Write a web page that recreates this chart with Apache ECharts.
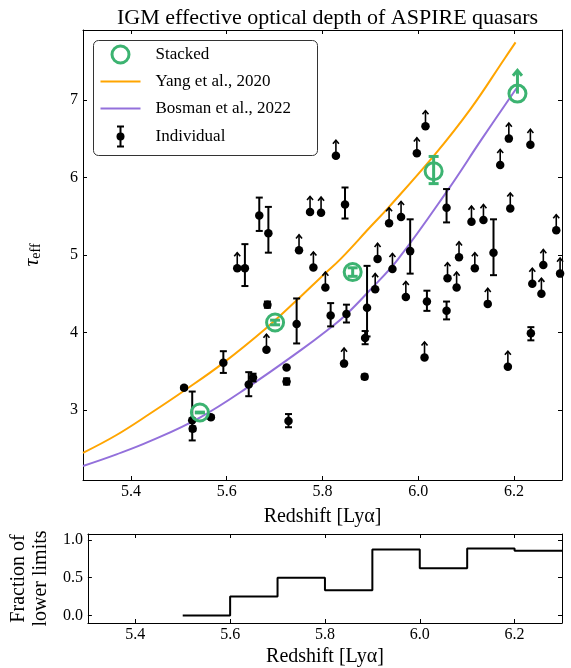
<!DOCTYPE html>
<html>
<head>
<meta charset="utf-8">
<script src="https://cdn.jsdelivr.net/npm/echarts@6/dist/echarts.min.js"></script>
<style>
  html, body { margin: 0; padding: 0; background: #fff; }
  #chart { width: 571px; height: 668px; }
</style>
</head>
<body>
<div id="chart"></div>
<script>
// Individual quasars with measured optical depth (value with asymmetric errors)
const zMeas = [5.511, 5.528, 5.529, 5.567, 5.593, 5.638, 5.646, 5.655, 5.668, 5.687,
               5.685, 5.725, 5.725, 5.729, 5.746, 5.817, 5.847, 5.850, 5.888, 5.889,
               5.893, 5.983, 6.018, 6.059, 6.059, 6.157, 6.235];
const tauMeas = [3.29, 2.87, 2.76, 2.91, 3.61, 4.83, 3.33, 3.42, 5.51, 5.28,
                 4.36, 3.55, 3.37, 2.86, 4.11, 4.22, 5.65, 4.24, 3.43, 3.93,
                 4.32, 5.05, 4.40, 4.28, 5.61, 5.03, 3.99];
const errLoMeas = [0.02, 0.26, 0.03, 0.02, 0.13, 0.23, 0.15, 0.05, 0.20, 0.25,
                   0.04, 0.02, 0.04, 0.08, 0.25, 0.14, 0.18, 0.11, 0.03, 0.08,
                   0.37, 0.29, 0.12, 0.11, 0.19, 0.29, 0.09];
const errHiMeas = [0.02, 0.37, 0.03, 0.02, 0.15, 0.31, 0.16, 0.05, 0.23, 0.34,
                   0.04, 0.02, 0.04, 0.09, 0.33, 0.16, 0.22, 0.12, 0.03, 0.09,
                   0.54, 0.41, 0.14, 0.12, 0.24, 0.43, 0.08];

// Individual quasars where only a lower limit on the optical depth is available
const zLim = [5.622, 5.683, 5.751, 5.774, 5.781, 5.797, 5.806, 5.828, 5.845, 5.910,
              5.915, 5.939, 5.946, 5.964, 5.974, 5.997, 6.013, 6.015, 6.061, 6.080,
              6.085, 6.111, 6.118, 6.136, 6.145, 6.171, 6.187, 6.189, 6.192, 6.234,
              6.238, 6.257, 6.261, 6.288, 6.296];
const tauLim = [4.83, 3.78, 5.06, 5.555, 4.84, 5.546, 4.58, 6.28, 3.60, 4.56,
                4.95, 5.41, 4.82, 5.49, 4.46, 6.31, 3.68, 6.66, 4.70, 4.58,
                4.97, 5.43, 4.83, 5.45, 4.37, 6.16, 3.56, 6.50, 5.60, 6.42,
                4.63, 4.50, 4.87, 5.32, 4.76];
const limArrowLen = 0.2;

// Stacked measurements
const zStack = [5.544, 5.701, 5.863, 6.032, 6.207];
const tauStack = [2.97, 4.13, 4.78, 6.08, 7.08];
const errLoStack = [0.005, 0.03, 0.055, 0.16, 0];
const errHiStack = [0.005, 0.03, 0.055, 0.19, 0];
const stackIsLimit = [false, false, false, false, true];
const stackArrowLen = 0.3;

// Literature relations
const zYang = [5.30, 5.37, 5.441, 5.511, 5.593, 5.681, 5.745, 5.803, 5.838, 5.901, 5.939, 6.034, 6.110, 6.180, 6.203];
const tauYang = [2.45, 2.68, 2.96, 3.25, 3.61, 4.05, 4.41, 4.75, 4.95, 5.37, 5.62, 6.29, 6.89, 7.53, 7.74];
const zBosman = [5.30, 5.37, 5.44, 5.544, 5.65, 5.754, 5.81, 5.849, 5.901, 5.957, 6.062, 6.131, 6.205];
const tauBosman = [2.28, 2.43, 2.60, 2.905, 3.32, 3.77, 4.03, 4.23, 4.56, 4.94, 5.84, 6.48, 7.15];

// Fraction of lower limits per redshift bin
const zBinEdges = [5.5, 5.6, 5.7, 5.8, 5.9, 6.0, 6.1, 6.2, 6.3];
const fracLowerLimits = [0, 0.25, 0.5, 0.333, 0.875, 0.625, 0.889, 0.857];

// Axis ticks
const zTicks = [5.4, 5.6, 5.8, 6.0, 6.2];
const tauTicks = [3, 4, 5, 6, 7];
const fracTicks = [0, 0.5, 1.0];

const FONT = '"Liberation Serif", "Times New Roman", serif';
const GREEN = '#3CB371', ORANGE = '#FFA500', PURPLE = '#9370DB';

const chart = echarts.init(document.getElementById('chart'), null, { renderer: 'canvas' });

function errRender(color, lw, capHalf) {
  return function (params, api) {
    const x = api.value(0), lo = api.value(2), hi = api.value(3);
    const pLo = api.coord([x, lo]);
    const pHi = api.coord([x, hi]);
    const st = { stroke: color, lineWidth: lw };
    return {
      type: 'group',
      children: [
        { type: 'line', shape: { x1: pLo[0], y1: pLo[1], x2: pHi[0], y2: pHi[1] }, style: st },
        { type: 'line', shape: { x1: pLo[0] - capHalf, y1: pLo[1], x2: pLo[0] + capHalf, y2: pLo[1] }, style: st },
        { type: 'line', shape: { x1: pHi[0] - capHalf, y1: pHi[1], x2: pHi[0] + capHalf, y2: pHi[1] }, style: st }
      ]
    };
  };
}

function arrowRender(color, lw, len, head) {
  return function (params, api) {
    const x = api.value(0), y = api.value(1);
    const p0 = api.coord([x, y]);
    const p1 = api.coord([x, y + len]);
    const st = { stroke: color, lineWidth: lw, fill: null };
    return {
      type: 'group',
      children: [
        { type: 'line', shape: { x1: p0[0], y1: p0[1], x2: p1[0], y2: p1[1] }, style: st },
        { type: 'polyline', shape: { points: [[p1[0] - head, p1[1] + head * 1.2], [p1[0], p1[1]], [p1[0] + head, p1[1] + head * 1.2]] }, style: st }
      ]
    };
  };
}

const measData = zMeas.map((z, i) => [z, tauMeas[i], tauMeas[i] - errLoMeas[i], tauMeas[i] + errHiMeas[i]]);
const limData = zLim.map((z, i) => [z, tauLim[i]]);
const stackErrData = zStack.map((z, i) => [z, tauStack[i], tauStack[i] - errLoStack[i], tauStack[i] + errHiStack[i]])
  .filter((d, i) => !stackIsLimit[i]);
const stackLimData = zStack.map((z, i) => [z, tauStack[i]]).filter((d, i) => stackIsLimit[i]);
const yangData = zYang.map((z, i) => [z, tauYang[i]]);
const bosmanData = zBosman.map((z, i) => [z, tauBosman[i]]);
const stepData = zBinEdges.map((z, i) => [z, fracLowerLimits[Math.min(i, fracLowerLimits.length - 1)]]);

const axisLineStyle = { color: '#000', width: 1 };
function xAxisCfg(grid, pos, labels) {
  return {
    type: 'value', gridIndex: grid, position: pos, min: 5.3, max: 6.3,
    axisLine: { show: true, onZero: false, lineStyle: axisLineStyle },
    axisTick: { show: true, inside: true, length: 4, customValues: zTicks, lineStyle: axisLineStyle },
    axisLabel: { show: labels, customValues: zTicks, margin: 4, fontFamily: FONT, fontSize: 16, color: '#000',
                 formatter: v => v.toFixed(1) },
    splitLine: { show: false }
  };
}
function yAxisCfg(grid, pos, labels, min, max, ticks, fmt) {
  return {
    type: 'value', gridIndex: grid, position: pos, min: min, max: max,
    axisLine: { show: true, onZero: false, lineStyle: axisLineStyle },
    axisTick: { show: true, inside: true, length: 4, customValues: ticks, lineStyle: axisLineStyle },
    axisLabel: { show: labels, customValues: ticks, margin: 5, fontFamily: FONT, fontSize: 16, color: '#000', formatter: fmt },
    splitLine: { show: false }
  };
}

const xMain = xAxisCfg(0, 'bottom', true);
xMain.name = 'Redshift [Lyα]';
xMain.nameLocation = 'middle';
xMain.nameGap = 27;
xMain.nameTextStyle = { fontFamily: FONT, fontSize: 20, color: '#000' };
const xFrac = xAxisCfg(1, 'bottom', true);
xFrac.name = 'Redshift [Lyα]';
xFrac.nameLocation = 'middle';
xFrac.nameGap = 24;
xFrac.nameTextStyle = { fontFamily: FONT, fontSize: 20, color: '#000' };

const yMain = yAxisCfg(0, 'left', true, 2.1, 7.9, tauTicks, v => String(v));
yMain.name = '{t|τ}{s|eff}';
yMain.nameLocation = 'middle';
yMain.nameRotate = 90;
yMain.nameGap = 40;
yMain.nameTextStyle = {
  color: '#000',
  rich: {
    t: { fontFamily: FONT, fontStyle: 'italic', fontSize: 22, color: '#000', verticalAlign: 'bottom', lineHeight: 26 },
    s: { fontFamily: FONT, fontSize: 14, color: '#000', verticalAlign: 'bottom', lineHeight: 20 }
  }
};
const yFrac = yAxisCfg(1, 'left', true, -0.1, 1.08, fracTicks, v => v.toFixed(1));
yFrac.name = 'Fraction of\nlower limits';
yFrac.nameLocation = 'middle';
yFrac.nameRotate = 90;
yFrac.nameGap = 31;
yFrac.nameTextStyle = { fontFamily: FONT, fontSize: 20, color: '#000', lineHeight: 22 };

const option = {
  animation: false,
  backgroundColor: '#fff',
  title: {
    text: 'IGM effective optical depth of ASPIRE quasars',
    left: 322.5, top: 2, textAlign: 'center',
    textStyle: { fontFamily: FONT, fontSize: 22, fontWeight: 'normal', color: '#000' }
  },
  grid: [
    { left: 83, top: 30, width: 479, height: 450 },
    { left: 83, top: 534, width: 479, height: 90 }
  ],
  xAxis: [xMain, xAxisCfg(0, 'top', false), xFrac, xAxisCfg(1, 'top', false)],
  yAxis: [yMain, yAxisCfg(0, 'right', false, 2.1, 7.9, tauTicks), yFrac, yAxisCfg(1, 'right', false, -0.1, 1.08, fracTicks)],
  series: [
    {
      name: 'Yang et al., 2020', type: 'line', xAxisIndex: 0, yAxisIndex: 0,
      data: yangData, smooth: 0.4, showSymbol: false, z: 1,
      lineStyle: { color: ORANGE, width: 2 }
    },
    {
      name: 'Bosman et al., 2022', type: 'line', xAxisIndex: 0, yAxisIndex: 0,
      data: bosmanData, smooth: 0.4, showSymbol: false, z: 1,
      lineStyle: { color: PURPLE, width: 2 }
    },
    {
      name: 'Individual', type: 'custom', xAxisIndex: 0, yAxisIndex: 0,
      data: measData, encode: { x: 0, y: 1 }, z: 3,
      renderItem: errRender('#000', 2, 3.5)
    },
    {
      name: 'Individual limits', type: 'custom', xAxisIndex: 0, yAxisIndex: 0,
      data: limData, encode: { x: 0, y: 1 }, z: 3,
      renderItem: arrowRender('#000', 1.6, limArrowLen, 3)
    },
    {
      name: 'Individual points', type: 'scatter', xAxisIndex: 0, yAxisIndex: 0,
      data: measData.map(d => [d[0], d[1]]).concat(limData), symbol: 'circle', symbolSize: 8.5, z: 4,
      itemStyle: { color: '#000', opacity: 1 }
    },
    {
      name: 'Stacked errors', type: 'custom', xAxisIndex: 0, yAxisIndex: 0,
      data: stackErrData, encode: { x: 0, y: 1 }, z: 5,
      renderItem: errRender(GREEN, 3, 5)
    },
    {
      name: 'Stacked limit', type: 'custom', xAxisIndex: 0, yAxisIndex: 0,
      data: stackLimData, encode: { x: 0, y: 1 }, z: 5,
      renderItem: arrowRender(GREEN, 3, stackArrowLen, 4.5)
    },
    {
      name: 'Stacked', type: 'scatter', xAxisIndex: 0, yAxisIndex: 0,
      data: zStack.map((z, i) => [z, tauStack[i]]), symbol: 'circle', symbolSize: 17, z: 6,
      itemStyle: { color: 'rgba(0,0,0,0)', borderColor: GREEN, borderWidth: 3, opacity: 1 }
    },
    {
      name: 'Fraction of lower limits', type: 'line', xAxisIndex: 2, yAxisIndex: 2,
      data: stepData, step: 'end', showSymbol: false,
      lineStyle: { color: '#000', width: 2 }
    }
  ],
  graphic: [
    {
      type: 'group', left: 93, top: 40, z: 100,
      children: [
        { type: 'rect', shape: { x: 0, y: 0, width: 224, height: 115, r: 5 }, style: { fill: '#fff', stroke: '#333', lineWidth: 1 } },
        { type: 'circle', shape: { cx: 27, cy: 14, r: 8.5 }, style: { fill: null, stroke: GREEN, lineWidth: 3 } },
        { type: 'text', x: 62, y: 14, style: { text: 'Stacked', fontFamily: FONT, fontSize: 17, fill: '#000', verticalAlign: 'middle' } },
        { type: 'line', shape: { x1: 7, y1: 41, x2: 47, y2: 41 }, style: { stroke: ORANGE, lineWidth: 2 } },
        { type: 'text', x: 62, y: 41, style: { text: 'Yang et al., 2020', fontFamily: FONT, fontSize: 17, fill: '#000', verticalAlign: 'middle' } },
        { type: 'line', shape: { x1: 7, y1: 68, x2: 47, y2: 68 }, style: { stroke: PURPLE, lineWidth: 2 } },
        { type: 'text', x: 62, y: 68, style: { text: 'Bosman et al., 2022', fontFamily: FONT, fontSize: 17, fill: '#000', verticalAlign: 'middle' } },
        { type: 'line', shape: { x1: 27, y1: 86, x2: 27, y2: 106 }, style: { stroke: '#000', lineWidth: 2 } },
        { type: 'line', shape: { x1: 23.5, y1: 86, x2: 30.5, y2: 86 }, style: { stroke: '#000', lineWidth: 2 } },
        { type: 'line', shape: { x1: 23.5, y1: 106, x2: 30.5, y2: 106 }, style: { stroke: '#000', lineWidth: 2 } },
        { type: 'circle', shape: { cx: 27, cy: 96, r: 4 }, style: { fill: '#000' } },
        { type: 'text', x: 62, y: 96, style: { text: 'Individual', fontFamily: FONT, fontSize: 17, fill: '#000', verticalAlign: 'middle' } }
      ]
    }
  ]
};

chart.setOption(option);
</script>
</body>
</html>
